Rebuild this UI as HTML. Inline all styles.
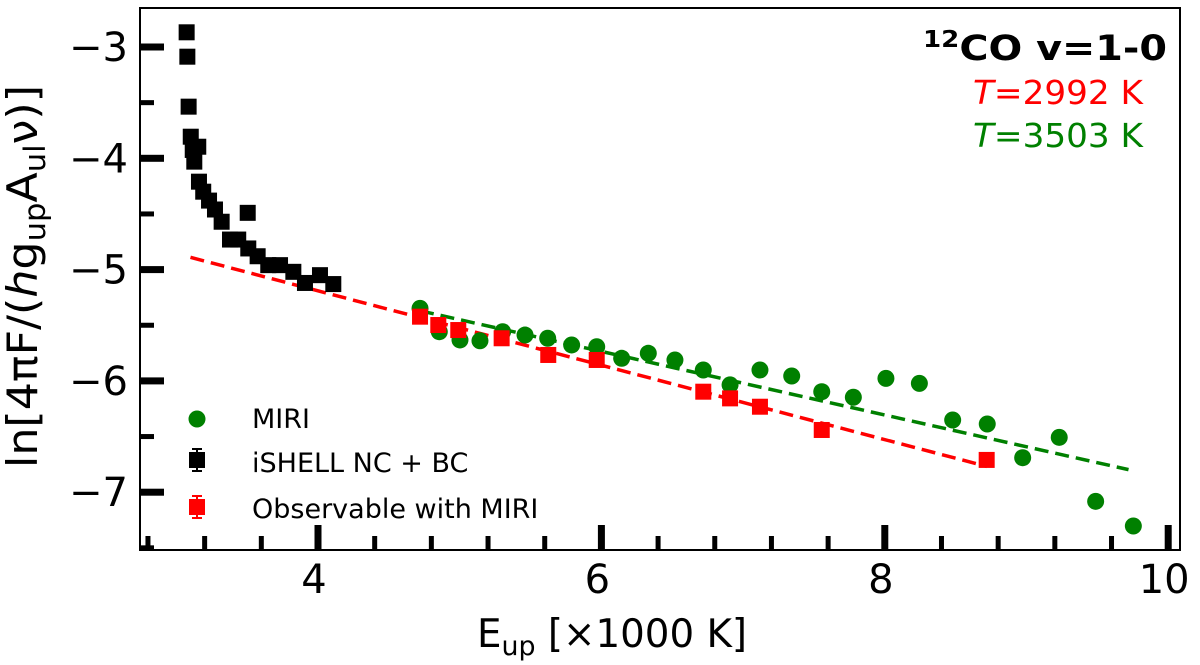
<!DOCTYPE html>
<html><head><meta charset="utf-8"><style>
html,body{margin:0;padding:0;background:#fff;}
svg{display:block;font-family:"DejaVu Sans","Liberation Sans",sans-serif;}
</style></head><body>
<svg id="chart" width="1200" height="665" viewBox="0 0 1200 665">
<g id="marks"></g>
<g id="axes"></g>
<g>
 <circle cx="197" cy="419" r="8.5" fill="#008000"/>
 <text x="252" y="428" font-size="27">MIRI</text>
 <line x1="197" y1="449" x2="197" y2="471" stroke="#000" stroke-width="2"/>
 <line x1="192" y1="449" x2="202" y2="449" stroke="#000" stroke-width="2"/>
 <line x1="192" y1="471" x2="202" y2="471" stroke="#000" stroke-width="2"/>
 <rect x="189" y="452" width="16" height="16" fill="#000"/>
 <text x="252" y="472" font-size="27">iSHELL NC + BC</text>
 <line x1="197" y1="496" x2="197" y2="518" stroke="#f00" stroke-width="2"/>
 <line x1="192" y1="496" x2="202" y2="496" stroke="#f00" stroke-width="2"/>
 <line x1="192" y1="518" x2="202" y2="518" stroke="#f00" stroke-width="2"/>
 <rect x="189" y="499" width="16" height="16" fill="#f00"/>
 <text x="252" y="518" font-size="27">Observable with MIRI</text>
</g>
<g>
 <text x="923" y="60" font-size="35" font-weight="bold" textLength="244" lengthAdjust="spacingAndGlyphs"><tspan font-size="23" dy="-13">12</tspan><tspan dy="13">CO v=1-0</tspan></text>
 <text x="973" y="104" font-size="33" fill="#f00" textLength="170" lengthAdjust="spacingAndGlyphs"><tspan font-style="italic">T</tspan>=2992 K</text>
 <text x="973" y="147" font-size="33" fill="#008000" textLength="170" lengthAdjust="spacingAndGlyphs"><tspan font-style="italic">T</tspan>=3503 K</text>
</g>
<text x="477" y="647" font-size="39" textLength="270" lengthAdjust="spacingAndGlyphs">E<tspan font-size="27" dy="8">up</tspan><tspan dy="-8"> [×1000 K]</tspan></text>
<text transform="translate(37,468) rotate(-90)" font-size="42" textLength="383" lengthAdjust="spacingAndGlyphs">ln[4πF/(<tspan font-style="italic">h</tspan>g<tspan font-size="29" dy="8">up</tspan><tspan dy="-8">A</tspan><tspan font-size="29" dy="8">ul</tspan><tspan dy="-8">ν)]</tspan></text>
</svg>
<script>
const xTicks=[4,6,8,10];
const yTicks=[-3,-4,-5,-6,-7];
const ishellX=[3.073,3.078,3.087,3.102,3.155,3.116,3.127,3.160,3.190,3.231,3.273,3.320,3.379,3.504,3.437,3.508,3.574,3.649,3.732,3.826,3.908,4.014,4.108];
const ishellY=[-2.868,-3.087,-3.536,-3.806,-3.896,-3.925,-4.03,-4.21,-4.30,-4.38,-4.46,-4.57,-4.73,-4.49,-4.73,-4.81,-4.88,-4.96,-4.96,-5.02,-5.12,-5.05,-5.13];
const miriX=[4.720,4.856,5.002,5.143,5.303,5.461,5.621,5.790,5.967,6.143,6.331,6.519,6.719,6.908,7.119,7.343,7.555,7.778,8.008,8.244,8.479,8.723,8.973,9.231,9.488,9.754];
const miriY=[-5.348,-5.558,-5.632,-5.639,-5.558,-5.588,-5.617,-5.677,-5.693,-5.797,-5.752,-5.812,-5.902,-6.036,-5.902,-5.956,-6.097,-6.147,-5.977,-6.022,-6.351,-6.387,-6.690,-6.507,-7.082,-7.304];
const obsX=[4.720,4.849,4.990,5.296,5.625,5.967,6.719,6.908,7.119,7.555,8.719];
const obsY=[-5.423,-5.498,-5.543,-5.617,-5.767,-5.812,-6.097,-6.157,-6.232,-6.441,-6.710];
const redFit=[3.1,8.72,-4.89,2992];
const greenFit=[4.72,9.72,-5.37,3503];

const L=140,R=1180,T=8,B=550;
function sx(v){return 318+(v-4)*141.7;}
function sy(v){return 47-(v+3)*111.3;}
const NS='http://www.w3.org/2000/svg';
const marks=document.getElementById('marks'),axes=document.getElementById('axes');
function mk(tag,attrs,parent){const e=document.createElementNS(NS,tag);for(const k in attrs)e.setAttribute(k,attrs[k]);parent.appendChild(e);return e;}

function fit(f,color,name){
  const x1=f[0],x2=f[1],y1=f[2],y2=y1-(x2-x1)*1000/f[3];
  const l=mk('line',{x1:sx(x1),y1:sy(y1),x2:sx(x2),y2:sy(y2),stroke:color,'stroke-width':3.5,'stroke-dasharray':'14,7'},marks);
  
  
}
fit(redFit,'#f00','fit-line-red');
fit(greenFit,'#008000','fit-line-green');

ishellX.forEach((x,i)=>{const r=mk('rect',{x:sx(x)-8,y:sy(ishellY[i])-8,width:16,height:16,fill:'#000'},marks);

});
miriX.forEach((x,i)=>{const c=mk('circle',{cx:sx(x),cy:sy(miriY[i]),r:8.5,fill:'#008000'},marks);

});
obsX.forEach((x,i)=>{const r=mk('rect',{x:sx(x)-8,y:sy(obsY[i])-8,width:16,height:16,fill:'#f00'},marks);

});

const frame=mk('rect',{x:L,y:T,width:R-L,height:B-T,fill:'none',stroke:'#000','stroke-width':2},axes);


for(let v=2.8;v<=10.01;v+=0.4){const px=sx(v);const major=xTicks.some(t=>Math.abs(t-v)<0.01);
 mk('rect',{x:px-(major?3.5:2.5),y:B-(major?25:14),width:major?7:5,height:major?25:14,fill:'#000'},axes);}
for(let v=-7.5;v<=-2.99;v+=0.5){const py=sy(v);const major=yTicks.some(t=>Math.abs(t-v)<0.01);
 mk('rect',{x:L,y:py-(major?3.5:2.5),width:major?24:14,height:major?7:5,fill:'#000'},axes);}
xTicks.forEach(t=>{const e=mk('text',{x:sx(t)-4,y:593,'font-size':40,'text-anchor':'middle'},axes);e.textContent=t;

});
yTicks.forEach(t=>{const e=mk('text',{x:128,y:sy(t)+14,'font-size':40,'text-anchor':'end'},axes);e.textContent='\u2212'+Math.abs(t);

});
</script>
</body></html>
